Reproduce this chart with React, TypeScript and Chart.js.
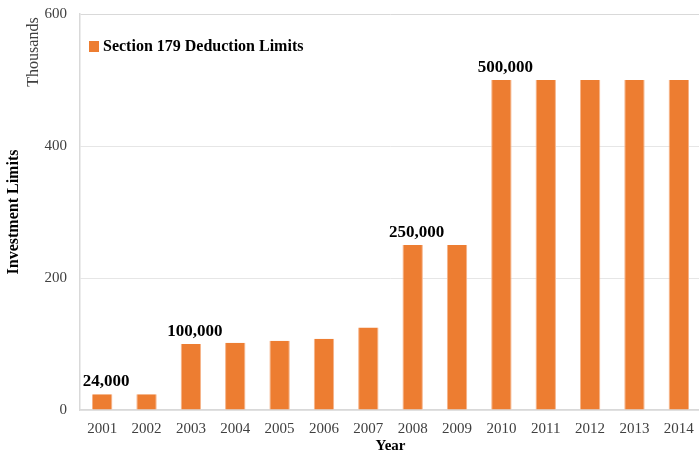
import React, { useEffect, useRef } from "react";
import { Chart, registerables } from "chart.js";

Chart.register(...registerables);

const years = ["2001","2002","2003","2004","2005","2006","2007","2008","2009","2010","2011","2012","2013","2014"];
const limitsThousands = [24, 24, 100, 102, 105, 108, 125, 250, 250, 500, 500, 500, 500, 500];
const labeledIndices = [0, 2, 7, 9];
const labelTexts = ["24,000", "100,000", "250,000", "500,000"];
const seriesName = "Section 179 Deduction Limits";
const yTicks = [0, 200, 400, 600];

const SERIF = "'Liberation Serif', 'Times New Roman', serif";
const ORANGE = "#ED7D31";

const extrasPlugin = {
  id: "extras",
  afterDatasetsDraw(chart: any) {
    const ctx = chart.ctx;
    const meta = chart.getDatasetMeta(0);
    ctx.save();
    // data labels
    ctx.font = `bold 17px ${SERIF}`;
    ctx.fillStyle = "#000";
    ctx.textAlign = "center";
    ctx.textBaseline = "alphabetic";
    labeledIndices.forEach((idx, k) => {
      const bar = meta.data[idx];
      ctx.fillText(labelTexts[k], bar.x + 4, bar.y - 8);
    });
    // legend inside plot
    const ca = chart.chartArea;
    const ds = chart.data.datasets[0];
    ctx.fillStyle = ds.backgroundColor;
    ctx.fillRect(ca.left + 9, ca.top + 27, 10, 11);
    ctx.fillStyle = "#000";
    ctx.font = `bold 16px ${SERIF}`;
    ctx.textAlign = "left";
    ctx.textBaseline = "middle";
    ctx.fillText(ds.label, ca.left + 23, ca.top + 33);
    // display units label
    ctx.save();
    ctx.translate(34, 52);
    ctx.rotate(-Math.PI / 2);
    ctx.font = `16px ${SERIF}`;
    ctx.fillStyle = "#404040";
    ctx.textAlign = "center";
    ctx.textBaseline = "middle";
    ctx.fillText("Thousands", 0, 0);
    ctx.restore();
    ctx.restore();
  },
};

export default function App() {
  const ref = useRef<HTMLCanvasElement>(null);
  useEffect(() => {
    document.body.style.margin = "0";
    const chart = new Chart(ref.current!, {
      type: "bar",
      data: {
        labels: years,
        datasets: [
          {
            label: seriesName,
            data: limitsThousands,
            backgroundColor: ORANGE,
            borderColor: "#F6B48A",
            borderWidth: { left: 1, right: 1, top: 0, bottom: 0 },
            categoryPercentage: 1,
            barPercentage: 0.46,
          },
        ],
      },
      options: {
        responsive: false,
        animation: false,
        devicePixelRatio: 1,
        layout: { padding: { top: 14, left: 0, right: 0, bottom: 0 } },
        plugins: { legend: { display: false }, tooltip: { enabled: false } },
        scales: {
          x: {
            grid: { display: false, drawTicks: false },
            border: { display: true, color: "#d9d9d9", width: 1.5 },
            ticks: { font: { family: SERIF, size: 15 }, color: "#404040", padding: 10 },
            title: {
              display: true,
              text: "Year",
              font: { family: SERIF, size: 15, weight: "bold", lineHeight: 1 },
              color: "#000",
              padding: { top: 0, bottom: -1 },
            },
            afterFit: (s: any) => { s.height = 43; s.paddingLeft = 0; s.paddingRight = 0; },
          },
          y: {
            min: 0,
            max: 600,
            afterBuildTicks: (s: any) => { s.ticks = yTicks.map((v) => ({ value: v })); },
            grid: {
              color: (c: any) => (c.tick && c.tick.value === 600 ? "#d9d9d9" : "#e6e6e6"),
              drawTicks: false,
              lineWidth: 1,
            },
            border: { display: true, color: "#d9d9d9", width: 1.5 },
            ticks: { font: { family: SERIF, size: 15 }, color: "#404040", padding: 13 },
            title: {
              display: true,
              text: "Investment Limits",
              font: { family: SERIF, size: 16, weight: "bold", lineHeight: 1 },
              color: "#000",
              padding: { top: 6, bottom: 0 },
            },
            afterFit: (s: any) => { s.width = 80; s.paddingTop = 0; s.paddingBottom = 0; },
          },
        },
      },
      plugins: [extrasPlugin],
    });
    return () => chart.destroy();
  }, []);
  return (
    <div style={{ width: 699, height: 453, overflow: "hidden", position: "relative", background: "#fff" }}>
      <canvas ref={ref} width={701} height={453} style={{ width: 701, height: 453, display: "block" }} />
    </div>
  );
}
